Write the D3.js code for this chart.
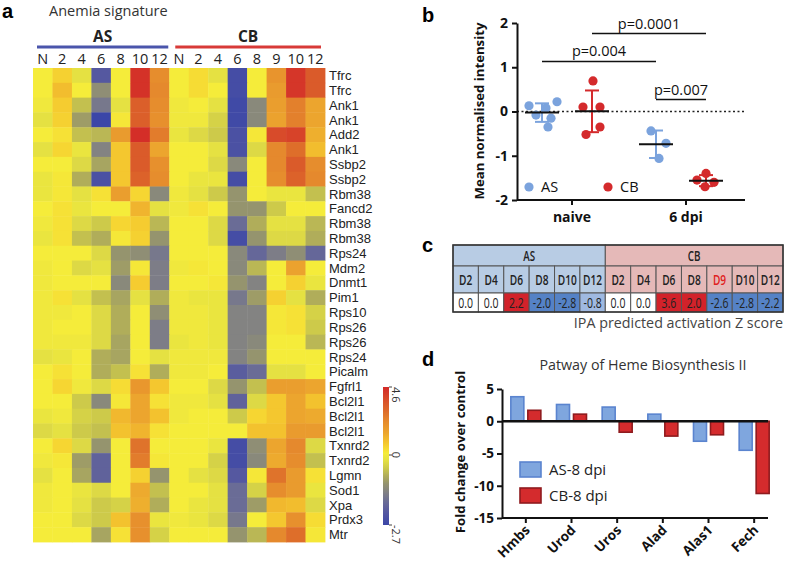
<!DOCTYPE html>
<html>
<head>
<meta charset="utf-8">
<script src="https://cdn.jsdelivr.net/npm/d3@7"></script>
<style>
body { margin: 0; background: #fff; }
svg { display: block; font-family: "Open Sans", sans-serif; }
.panel { font-family: "Liberation Sans", Arial, sans-serif; font-weight: bold; font-size: 20px; }
</style>
</head>
<body>
<svg id="fig" width="787" height="564"></svg>
<script>
// ---------- a: anemia signature heatmap ----------
var colsAS = ["N", "2", "4", "6", "8", "10", "12"];
var colsCB = ["N", "2", "4", "6", "8", "9", "10", "12"];
var genes = ["Tfrc", "Tfrc", "Ank1", "Ank1", "Add2", "Ank1", "Ssbp2", "Ssbp2", "Rbm38", "Fancd2",
    "Rbm38", "Rbm38", "Rps24", "Mdm2", "Dnmt1", "Pim1", "Rps10", "Rps26", "Rps26", "Rps24",
    "Picalm", "Fgfrl1", "Bcl2l1", "Bcl2l1", "Bcl2l1", "Txnrd2", "Txnrd2", "Lgmn", "Sod1", "Xpa",
    "Prdx3", "Mtr"];
// one row per gene: AS N..12, then CB N..12
var heat = [
    [0.1, 0.6, -0.2, -2.2, 0.1, 4.4, 2.2, 0.1, 0.4, -0.2, -2.5, 0.1, 2.0, 4.3, 3.4],
    [0.1, 1.0, 0.1, -1.2, 0.1, 4.4, 2.3, 0.1, 0.4, 0.1, -2.5, 0.1, 1.8, 4.3, 3.4],
    [0.0, 0.7, -0.6, -1.6, -0.2, 3.3, 2.2, 0.0, 0.1, -0.2, -2.6, -1.3, 1.7, 2.5, 1.5],
    [-0.2, 0.6, -1.0, -2.7, 0.2, 3.3, 2.1, 0.0, 0.0, -0.4, -2.6, -1.3, 1.6, 2.5, 1.5],
    [0.1, 0.3, -0.6, -0.7, 1.8, 4.5, 2.6, -0.1, -0.3, -0.5, -2.4, 0.2, 3.8, 4.0, 1.3],
    [-0.2, 0.5, -0.1, -1.4, 0.8, 3.4, 1.5, 0.1, 0.1, -0.2, -2.4, -0.3, 2.3, 2.9, 1.0],
    [0.1, 0.1, -0.3, -0.9, 0.8, 3.4, 2.1, 0.1, 0.1, -0.3, -1.3, 0.1, 2.3, 3.4, 2.2],
    [-0.1, 0.2, -0.8, -2.4, 0.8, 3.2, 2.2, 0.1, -0.1, -0.1, -2.5, 0.1, 2.2, 3.2, 2.3],
    [-0.1, 0.2, -0.2, 0.3, 1.7, 0.5, -1.3, 0.0, -0.2, -0.5, -1.1, 0.1, -0.1, -0.1, -0.6],
    [0.1, 0.3, -0.1, 0.1, 0.1, 1.2, -0.2, 0.0, 0.3, 0.1, -1.1, -1.1, -0.5, 0.1, 0.1],
    [0.0, 0.3, -0.3, -0.5, 0.5, 0.7, -0.7, 0.1, 0.1, -0.3, -1.8, -0.8, -0.2, -0.2, -0.7],
    [-0.1, 0.3, -0.6, -0.8, 0.2, 0.6, -1.1, 0.1, 0.1, -0.3, -2.5, -1.1, -0.3, -0.3, -0.8],
    [0.1, 0.1, 0.1, -0.3, -1.1, -1.2, -1.6, 0.1, 0.1, 0.1, -1.3, -1.9, -1.5, -1.2, -1.9],
    [0.0, 0.1, -0.3, -0.2, -1.0, 0.2, -1.5, 0.0, 0.2, 0.1, -1.3, -0.7, 0.1, 1.6, 0.1],
    [0.0, 0.1, 0.1, 0.1, -1.3, 0.7, -1.5, 0.1, 0.1, 0.2, -1.1, -1.4, 0.1, 0.6, -0.1],
    [0.0, 0.3, -0.2, -0.6, -0.9, -0.2, -0.8, 0.0, -0.1, -0.1, -1.6, -1.0, 0.6, -0.2, -0.8],
    [0.0, 0.0, 0.1, -0.3, -0.8, 0.1, -1.2, 0.0, 0.0, -0.1, -1.4, -1.4, 0.2, 0.3, -0.4],
    [0.0, 0.1, 0.1, -0.3, -0.8, 0.1, -1.5, 0.0, 0.0, -0.1, -1.4, -1.4, 0.2, 0.3, -0.5],
    [0.0, 0.0, 0.0, -0.3, -0.9, 0.1, -1.5, -0.1, 0.0, -0.1, -1.4, -1.3, 0.1, 0.1, -0.7],
    [-0.2, -0.1, 0.1, -0.8, -0.9, 0.1, -0.2, 0.0, 0.0, 0.0, -1.4, -1.1, 0.1, 0.1, 0.1],
    [0.1, 0.3, 0.1, -0.8, -0.6, 0.3, -0.8, 0.0, 0.0, 0.1, -2.1, -1.8, -0.2, -0.2, 0.1],
    [0.1, 0.5, 0.0, -0.3, 0.4, 1.9, 0.8, 0.1, 0.1, -0.3, -1.1, -0.6, 1.7, 1.7, 1.5],
    [0.1, 0.1, -0.5, -1.3, 0.2, 1.5, 0.3, 0.0, 0.0, -0.2, -2.0, -0.3, 0.8, 1.5, 0.9],
    [-0.1, 0.0, -0.4, -0.5, 1.1, 1.5, 0.9, 0.0, 0.1, 0.1, -0.5, 0.5, 0.8, 1.5, 1.4],
    [-0.3, -0.2, -0.5, -0.6, 0.9, 1.2, 0.3, 0.1, 0.1, 0.1, 0.1, 0.9, 0.9, 1.8, 1.8],
    [0.1, 0.5, -0.3, -1.1, 0.1, 2.8, 0.1, 0.1, 0.1, -0.1, -2.5, -1.2, 1.5, 2.3, -0.3],
    [0.0, 0.2, -1.0, -2.0, 0.1, 2.6, 0.2, 0.1, 0.1, -0.4, -2.5, -1.3, 1.4, 2.2, -0.6],
    [-0.2, 0.1, -0.9, -2.0, 0.1, 0.6, -1.1, 0.1, -0.2, -0.3, -2.2, 0.2, 2.8, 1.8, 0.3],
    [0.0, 0.1, -0.1, -0.3, 0.1, 1.4, -0.6, 0.1, 0.1, -0.2, -1.8, -0.4, 2.2, 1.8, -0.1],
    [0.0, 0.1, -0.2, -0.5, -0.4, 1.3, -0.8, 0.1, -0.1, -0.2, -1.8, -1.0, 1.1, 1.0, -0.3],
    [0.1, 0.1, -0.3, -0.5, 0.9, 2.1, -0.1, 0.0, -0.1, -0.3, -1.6, 0.1, 0.8, 2.1, 0.4],
    [0.1, 0.1, 0.1, -0.9, 0.3, 2.1, -0.4, 0.1, 0.1, 0.1, -1.1, -0.7, 2.3, 2.9, 0.2]
];
var legendTicks = [4.6, 0, -2.7];

// ---------- b: mean normalised intensity ----------
var groupsB = ["naive", "6 dpi"];
var asNaive = [0.13, 0.22, 0.08, -0.08, -0.15, -0.35];
var cbNaive = [0.69, 0.1, 0.1, -0.35, -0.52];
var asDpi6 = [-0.44, -0.72, -1.06];
var cbDpi6 = [-1.4, -1.55, -1.6, -1.7];
var ticksB = [-2, -1, 0, 1, 2];
var pTests = [
    {label: "p=0.0001", a: ["naive", "CB"], b: ["6 dpi", "CB"], level: 1.76},
    {label: "p=0.004", a: ["naive", "AS"], b: ["6 dpi", "AS"], level: 1.13},
    {label: "p=0.007", a: ["6 dpi", "AS"], b: ["6 dpi", "CB"], level: 0.27}
];

// ---------- c: IPA activation z score ----------
var ipaDaysAS = ["D2", "D4", "D6", "D8", "D10", "D12"];
var ipaAS = [0.0, 0.0, 2.2, -2.0, -2.8, -0.8];
var ipaDaysCB = ["D2", "D4", "D6", "D8", "D9", "D10", "D12"];
var ipaCB = [0.0, 0.0, 3.6, 2.0, -2.6, -2.8, -2.2];
var ipaRedDay = "D9";

// ---------- d: heme biosynthesis ----------
var hemeGenes = ["Hmbs", "Urod", "Uros", "Alad", "Alas1", "Fech"];
var hemeAS = [3.8, 2.6, 2.2, 1.1, -3.1, -4.5];
var hemeCB = [1.7, 1.1, -1.7, -2.3, -2.1, -11.2];
var hemeTicks = [5, 0, -5, -10, -15];

var blueB = "#7ba3dd", redB = "#d42a2c";
var svg = d3.select("#fig");

// ================= panel a =================
var ga = svg.append("g");
ga.append("text").attr("class", "panel").attr("x", 2).attr("y", 18).text("a");
ga.append("text").attr("x", 49).attr("y", 16).attr("font-size", 14.5).attr("fill", "#333").text("Anemia signature");

var allCols = colsAS.concat(colsCB);
var hx = d3.scaleBand().domain(d3.range(allCols.length)).range([33, 325]);
var hy = d3.scaleBand().domain(d3.range(genes.length)).range([68, 542]);
var heatColor = d3.scaleLinear()
    .domain([-2.7, -2.2, -1.8, -1.4, -1.1, -0.8, -0.5, -0.2, 0.1, 0.5, 0.9, 1.5, 2.2, 3.0, 3.6, 4.6])
    .range(["#3b46a8", "#5558a0", "#6a6c96", "#838382", "#95946e", "#b0ad5a", "#cdca4a", "#e5e142",
        "#f5ec3a", "#f6d632", "#f3c22e", "#eca52e", "#e68d2d", "#dd6a2a", "#d9532a", "#d32a28"])
    .clamp(true);

var cells = [];
heat.forEach(function (row, i) {
    row.forEach(function (v, j) { cells.push({i: i, j: j, v: v}); });
});
ga.selectAll("rect.cell").data(cells).enter().append("rect")
    .attr("class", "cell")
    .attr("x", function (d) { return hx(d.j); })
    .attr("y", function (d) { return hy(d.i); })
    .attr("width", hx.bandwidth() + 0.4)
    .attr("height", hy.bandwidth() + 0.4)
    .attr("fill", function (d) { return heatColor(d.v); });

ga.selectAll("text.col").data(allCols).enter().append("text")
    .attr("class", "col")
    .attr("x", function (d, j) { return hx(j) + hx.bandwidth() / 2; })
    .attr("y", 64)
    .attr("text-anchor", "middle")
    .attr("font-size", 14.5)
    .attr("fill", "#222")
    .text(function (d) { return d; });

var heads = [
    {name: "AS", from: 0, to: colsAS.length - 1, color: "#4a55ab", pad: [4, 1]},
    {name: "CB", from: colsAS.length, to: allCols.length - 1, color: "#d83a38", pad: [6, 4]}
];
heads.forEach(function (h) {
    var x0 = hx(h.from) + h.pad[0], x1 = hx(h.to) + hx.bandwidth() - h.pad[1];
    ga.append("line").attr("x1", x0).attr("x2", x1).attr("y1", 47).attr("y2", 47)
        .attr("stroke", h.color).attr("stroke-width", 3);
    ga.append("text").attr("x", (x0 + x1) / 2).attr("y", 42).attr("text-anchor", "middle")
        .attr("font-weight", "bold").attr("font-size", 15.5).attr("fill", "#222").text(h.name);
});

ga.selectAll("text.gene").data(genes).enter().append("text")
    .attr("class", "gene")
    .attr("x", 329)
    .attr("y", function (d, i) { return hy(i) + hy.bandwidth() / 2; })
    .attr("dy", "0.36em")
    .attr("font-family", "Liberation Sans, Arial, sans-serif")
    .attr("font-size", 13)
    .attr("fill", "#222")
    .text(function (d) { return d; });

// colour key
var ly = d3.scaleLinear().domain([-2.7, 0, 4.6]).range([525, 455, 387]);
var grad = svg.append("defs").append("linearGradient").attr("id", "hk")
    .attr("x1", 0).attr("y1", 1).attr("x2", 0).attr("y2", 0);
d3.range(-2.7, 4.61, 0.1).forEach(function (v) {
    grad.append("stop").attr("offset", (525 - ly(v)) / 138).attr("stop-color", heatColor(v));
});
ga.append("rect").attr("x", 383).attr("y", 387).attr("width", 6).attr("height", 138).attr("fill", "url(#hk)");
legendTicks.forEach(function (t) {
    ga.append("line").attr("x1", 389).attr("x2", 392).attr("y1", ly(t)).attr("y2", ly(t))
        .attr("stroke", "#444").attr("stroke-width", 1);
    ga.append("text").attr("transform", "translate(392," + ly(t) + ") rotate(90)")
        .attr("text-anchor", t === 0 ? "middle" : "start").attr("font-size", 11).attr("fill", "#333")
        .text(t);
});

// ================= panel b =================
var gb = svg.append("g");
gb.append("text").attr("class", "panel").attr("x", 422).attr("y", 22).text("b");
var yB = d3.scaleLinear().domain([-2, 2]).range([200, 23]);
var xB = d3.scaleBand().domain(groupsB).range([515, 743]);
var subB = d3.scalePoint().domain(["AS", "CB"]).range([-30, 20]);
function cx(g, s) { return xB(g) + xB.bandwidth() / 2 + subB(s); }

gb.append("line").attr("x1", 517).attr("x2", 745).attr("y1", yB(0)).attr("y2", yB(0))
    .attr("stroke", "#222").attr("stroke-width", 1.6).attr("stroke-dasharray", "2,2.5");

var yAxB = gb.append("g").attr("transform", "translate(517,0)")
    .call(d3.axisLeft(yB).tickValues(ticksB).tickFormat(function (d) { return String(d); })
        .tickSize(5).tickSizeOuter(0).tickPadding(4));
var xAxB = gb.append("g").attr("transform", "translate(0,200)")
    .call(d3.axisBottom(xB).tickSize(5).tickSizeOuter(0).tickPadding(7));
xAxB.select(".domain").attr("d", "M517,0H745");
[yAxB, xAxB].forEach(function (ax) {
    ax.selectAll("path,line").attr("stroke", "#111").attr("stroke-width", 2);
    ax.selectAll("text").attr("font-family", "Open Sans, sans-serif").attr("font-weight", "bold")
        .attr("font-size", 14).attr("fill", "#111");
});
gb.append("text").attr("transform", "translate(484,111) rotate(-90)").attr("text-anchor", "middle")
    .attr("font-weight", "bold").attr("font-size", 13.2).attr("fill", "#111").text("Mean normalised intensity");

var seriesB = [
    {g: "naive", s: "AS", vals: asNaive, jit: [-13, 15, 4, -6, 9, 6], color: blueB},
    {g: "naive", s: "CB", vals: cbNaive, jit: [1, -9, 8, 8, -6], color: redB},
    {g: "6 dpi", s: "AS", vals: asDpi6, jit: [-5, 10, 3], color: blueB},
    {g: "6 dpi", s: "CB", vals: cbDpi6, jit: [0, -9, 8, -1], color: redB}
];
seriesB.forEach(function (sr) {
    var c = cx(sr.g, sr.s);
    var m = d3.mean(sr.vals), sd = d3.deviation(sr.vals);
    gb.selectAll(null).data(sr.vals).enter().append("circle")
        .attr("cx", function (d, i) { return c + sr.jit[i]; })
        .attr("cy", function (d) { return yB(d); })
        .attr("r", 4.6)
        .attr("fill", sr.color);
    gb.append("line").attr("x1", c).attr("x2", c).attr("y1", yB(m + sd)).attr("y2", yB(m - sd))
        .attr("stroke", sr.color).attr("stroke-width", 2);
    [m + sd, m - sd].forEach(function (v) {
        gb.append("line").attr("x1", c - 7).attr("x2", c + 7).attr("y1", yB(v)).attr("y2", yB(v))
            .attr("stroke", sr.color).attr("stroke-width", 2);
    });
    gb.append("line").attr("x1", c - 17).attr("x2", c + 17).attr("y1", yB(m)).attr("y2", yB(m))
        .attr("stroke", "#111").attr("stroke-width", 2);
});

pTests.forEach(function (p) {
    var x0 = cx(p.a[0], p.a[1]), x1 = cx(p.b[0], p.b[1]), y = yB(p.level);
    gb.append("line").attr("x1", x0).attr("x2", x1).attr("y1", y).attr("y2", y)
        .attr("stroke", "#111").attr("stroke-width", 1.5);
    gb.append("text").attr("x", (x0 + x1) / 2).attr("y", y - 5).attr("text-anchor", "middle")
        .attr("font-size", 14.5).attr("fill", "#111").text(p.label);
});

[{s: "AS", color: blueB, x: 529}, {s: "CB", color: redB, x: 608}].forEach(function (l) {
    gb.append("circle").attr("cx", l.x).attr("cy", 187).attr("r", 4.6).attr("fill", l.color);
    gb.append("text").attr("x", l.x + 12).attr("y", 192).attr("font-size", 14.5).attr("fill", "#111").text(l.s);
});

// ================= panel c =================
var gc = svg.append("g");
gc.append("text").attr("class", "panel").attr("x", 422).attr("y", 252).text("c");
var nC = ipaDaysAS.length + ipaDaysCB.length;
var xC = d3.scaleBand().domain(d3.range(nC)).range([453, 783]);
var rowsC = [245, 266, 293, 312];
var zColor = d3.scaleThreshold().domain([-1.5, -0.05, 0.05])
    .range(["#5582c6", "#9fb9e1", "#ffffff", "#d2222a"]);
// narrow text (condensed look of the original table)
function narrowText(g, x, y, txt, size, fill) {
    return g.append("text").attr("transform", "translate(" + x + "," + y + ") scale(0.7,1)")
        .attr("dy", "0.36em").attr("text-anchor", "middle").attr("font-size", size)
        .attr("fill", fill).text(txt);
}
var blocks = [
    {name: "AS", days: ipaDaysAS, vals: ipaAS, start: 0, bg: "#b8cce4"},
    {name: "CB", days: ipaDaysCB, vals: ipaCB, start: ipaDaysAS.length, bg: "#e5b9b8"}
];
blocks.forEach(function (b) {
    var x0 = xC(b.start), x1 = xC(b.start + b.days.length - 1) + xC.bandwidth();
    gc.append("rect").attr("x", x0).attr("y", rowsC[0]).attr("width", x1 - x0).attr("height", rowsC[1] - rowsC[0])
        .attr("fill", b.bg).attr("stroke", "#555").attr("stroke-width", 1);
    narrowText(gc, (x0 + x1) / 2, (rowsC[0] + rowsC[1]) / 2, b.name, 14, "#222").attr("font-weight", 600);
    b.days.forEach(function (d, k) {
        var x = xC(b.start + k);
        gc.append("rect").attr("x", x).attr("y", rowsC[1]).attr("width", xC.bandwidth()).attr("height", rowsC[2] - rowsC[1])
            .attr("fill", b.bg).attr("stroke", "#555").attr("stroke-width", 1);
        narrowText(gc, x + xC.bandwidth() / 2, (rowsC[1] + rowsC[2]) / 2, d, 14.5,
            b.name === "CB" && d === ipaRedDay ? "#e02020" : "#222").attr("font-weight", 600);
        var v = b.vals[k];
        gc.append("rect").attr("x", x).attr("y", rowsC[2]).attr("width", xC.bandwidth()).attr("height", rowsC[3] - rowsC[2])
            .attr("fill", zColor(v)).attr("stroke", "#555").attr("stroke-width", 1);
        narrowText(gc, x + xC.bandwidth() / 2, (rowsC[2] + rowsC[3]) / 2, v.toFixed(1), 15, "#222");
    });
});
gc.append("rect").attr("x", 453).attr("y", rowsC[0]).attr("width", 330).attr("height", rowsC[3] - rowsC[0])
    .attr("fill", "none").attr("stroke", "#333").attr("stroke-width", 1.5);
gc.append("text").attr("x", 783).attr("y", 328).attr("text-anchor", "end").attr("font-size", 14.3)
    .attr("fill", "#444").text("IPA predicted activation Z score");

// ================= panel d =================
var gd = svg.append("g");
gd.append("text").attr("class", "panel").attr("x", 422).attr("y", 366).text("d");
gd.append("text").attr("x", 643).attr("y", 370).attr("text-anchor", "middle").attr("font-size", 14.3)
    .attr("fill", "#333").text("Patway of Heme Biosynthesis II");
var yD = d3.scaleLinear().domain([-15, 5]).range([518, 389]);
var xD = d3.scaleBand().domain(hemeGenes).range([503, 777]);

var barsD = [
    {vals: hemeAS, off: -15, fill: "#7fa6de", stroke: "#5a84cf"},
    {vals: hemeCB, off: 2, fill: "#d42b2d", stroke: "#8f1b1e"}
];
barsD.forEach(function (b) {
    gd.selectAll(null).data(b.vals).enter().append("rect")
        .attr("x", function (d, i) { return xD(hemeGenes[i]) + xD.bandwidth() / 2 + b.off; })
        .attr("y", function (d) { return yD(Math.max(0, d)); })
        .attr("width", 13)
        .attr("height", function (d) { return Math.abs(yD(d) - yD(0)); })
        .attr("fill", b.fill).attr("stroke", b.stroke).attr("stroke-width", 1.6);
});
gd.append("line").attr("x1", 502).attr("x2", 768).attr("y1", yD(0)).attr("y2", yD(0))
    .attr("stroke", "#111").attr("stroke-width", 2.5);

var yAxD = gd.append("g").attr("transform", "translate(502,0)")
    .call(d3.axisLeft(yD).tickValues(hemeTicks).tickFormat(function (d) { return String(d); })
        .tickSize(5).tickSizeOuter(0).tickPadding(3));
var xAxD = gd.append("g").attr("transform", "translate(0,518)")
    .call(d3.axisBottom(xD).tickSize(5).tickSizeOuter(0));
xAxD.select(".domain").attr("d", "M502,0H768");
xAxD.selectAll(".tick text").attr("text-anchor", "end").attr("dy", null).attr("y", null)
    .attr("transform", "translate(5,13) rotate(-45)");
[yAxD, xAxD].forEach(function (ax) {
    ax.selectAll("path,line").attr("stroke", "#111").attr("stroke-width", 2);
    ax.selectAll("text").attr("font-family", "Open Sans, sans-serif").attr("font-weight", "bold")
        .attr("font-size", 13.5).attr("fill", "#111");
});
gd.append("text").attr("transform", "translate(465,452) rotate(-90)").attr("text-anchor", "middle")
    .attr("font-weight", "bold").attr("font-size", 13.2).attr("fill", "#111").text("Fold change over control");

[{label: "AS-8 dpi", b: barsD[0], y: 462}, {label: "CB-8 dpi", b: barsD[1], y: 488}].forEach(function (l) {
    gd.append("rect").attr("x", 520).attr("y", l.y).attr("width", 21).attr("height", 15)
        .attr("fill", l.b.fill).attr("stroke", l.b.stroke).attr("stroke-width", 1.6);
    gd.append("text").attr("x", 549).attr("y", l.y + 13).attr("font-size", 15).attr("fill", "#222").text(l.label);
});
</script>
</body>
</html>
